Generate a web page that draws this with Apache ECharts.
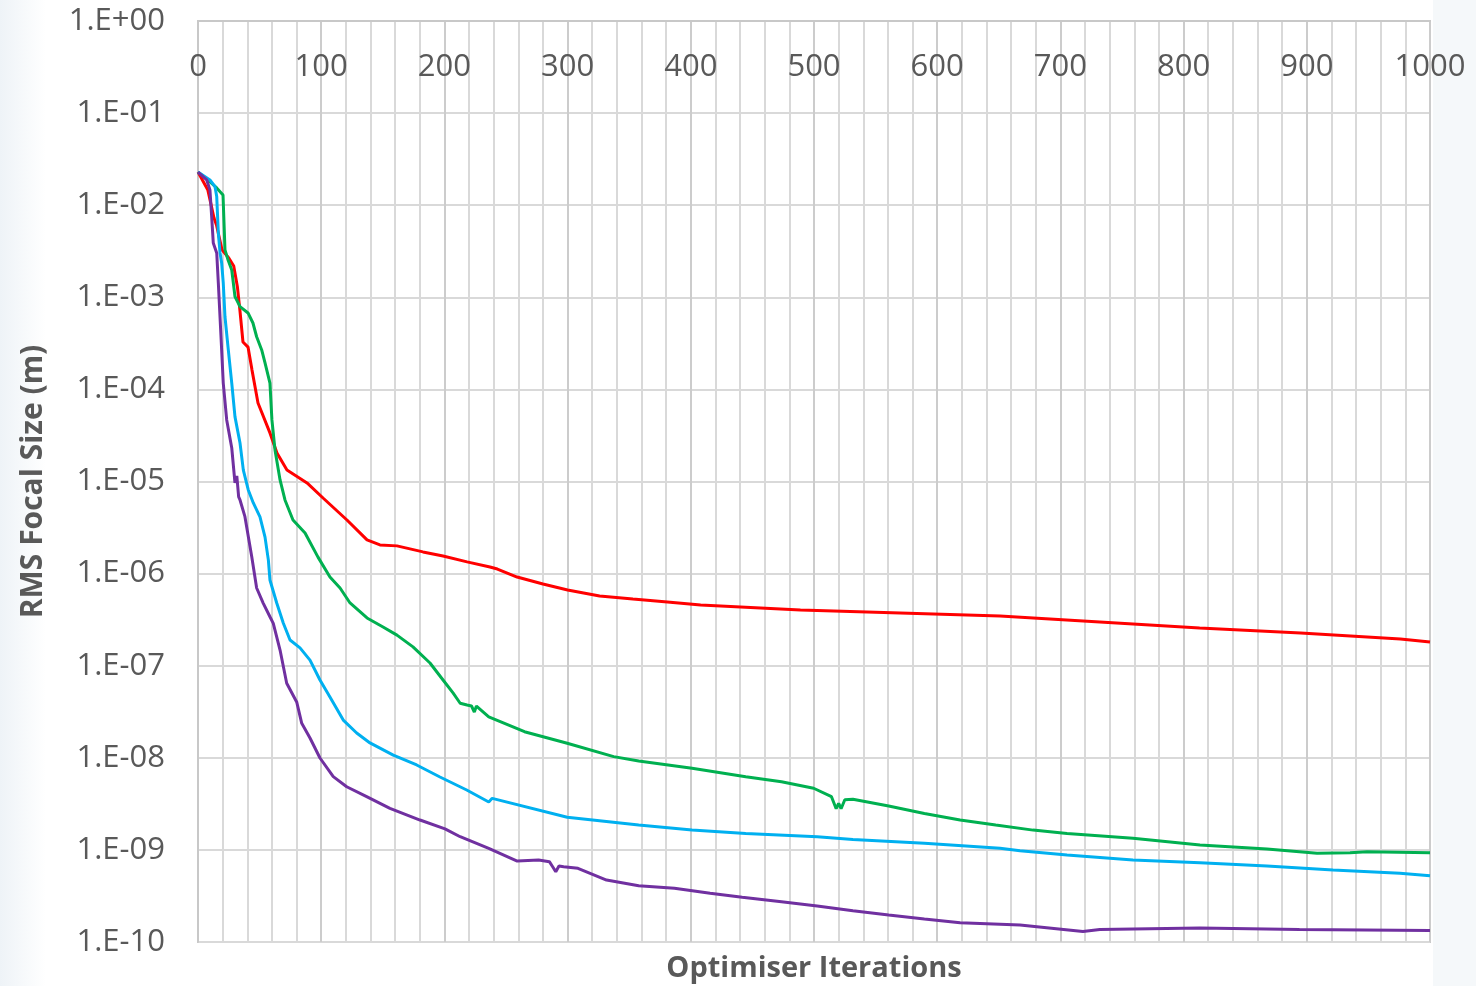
<!DOCTYPE html>
<html>
<head>
<meta charset="utf-8">
<script src="https://cdn.jsdelivr.net/npm/echarts@6/dist/echarts.min.js"></script>
<style>
  html, body { margin: 0; padding: 0; background: #ffffff; }
  #chart { width: 1476px; height: 986px; }
</style>
</head>
<body>
<div id="chart"></div>
<script>
// ---- Data (iteration, RMS focal size in m) ----
const redIter = [0,8,13,15,19.5,25,29,32,34,36.5,40.6,43.8,48.7,58.4,64.1,72.2,88.5,101.5,120.9,137.2,147.7,161.5,182.6,198.9,218.4,237,243,259,280,300,326,353,381,408,489,570,651,732,813,895,976,1000];
const redVal = [2.29e-2,1.46e-2,7.26e-3,6.1e-3,3.27e-3,2.67e-3,2.19e-3,1.29e-3,7.28e-4,3.27e-4,2.88e-4,1.63e-4,7.11e-5,3.37e-5,2.04e-5,1.33e-5,9.64e-6,6.62e-6,3.82e-6,2.32e-6,2.05e-6,2.00e-6,1.72e-6,1.55e-6,1.34e-6,1.18e-6,1.12e-6,9.18e-7,7.71e-7,6.64e-7,5.71e-7,5.30e-7,4.92e-7,4.56e-7,4.03e-7,3.73e-7,3.46e-7,2.98e-7,2.56e-7,2.26e-7,1.95e-7,1.81e-7];

const greenIter = [0,8,15.2,20.3,21.9,24.4,27.4,30,34.1,40.6,44.6,47.6,51.7,54.4,58.4,60,62.5,66.6,70.6,77.1,86.9,97.4,107.1,115.3,123.4,137.2,150.2,161.5,174.5,188.3,198.9,207,212.8,218.4,222,224.3,226,236,265,299.7,337.4,357.7,401,444.6,473.6,499.7,514.2,518,520,522,525,531.6,560.6,589.6,618.6,647.5,677.8,705.4,758.9,813.3,867.7,908.3,935.1,948.9,1000];
const greenVal = [2.29e-2,1.88e-2,1.54e-2,1.29e-2,3.27e-3,2.54e-3,1.98e-3,1.02e-3,7.91e-4,6.76e-4,5.26e-4,3.73e-4,2.68e-4,1.94e-4,1.17e-4,4.66e-5,2.20e-5,1.04e-5,6.30e-6,3.82e-6,2.76e-6,1.51e-6,9.18e-7,6.98e-7,4.80e-7,3.30e-7,2.63e-7,2.15e-7,1.60e-7,1.07e-7,7.00e-8,5.06e-8,3.91e-8,3.74e-8,3.65e-8,3.14e-8,3.65e-8,2.79e-8,1.92e-8,1.44e-8,1.03e-8,9.23e-9,7.69e-9,6.24e-9,5.50e-9,4.67e-9,3.78e-9,2.8e-9,3.2e-9,2.8e-9,3.5e-9,3.54e-9,3.00e-9,2.49e-9,2.11e-9,1.86e-9,1.64e-9,1.51e-9,1.34e-9,1.13e-9,1.02e-9,9.20e-10,9.33e-10,9.55e-10,9.33e-10];

const cyanIter = [0,9.7,13.8,15.2,16.5,17.9,19.2,20.5,21.9,24.6,27.4,30,34.1,36.8,40.8,44.9,50.3,54.4,57.1,58.4,63.9,69.2,74.7,82.8,90.9,99,107.1,117.9,128.8,139.6,158.5,177.5,196.4,218.1,236,238.8,299.7,357.7,401,444.6,502.6,531.6,589.6,651,667.2,705.4,758.9,813.3,867.7,921.3,975.6,1000];
const cyanVal = [2.29e-2,1.88e-2,1.59e-2,1.24e-2,4.99e-3,3.03e-3,2.36e-3,1.43e-3,6.15e-4,2.68e-4,1.17e-4,5.06e-5,2.62e-5,1.33e-5,8.09e-6,5.85e-6,4.12e-6,2.49e-6,1.41e-6,8.53e-7,4.80e-7,2.91e-7,1.90e-7,1.56e-7,1.15e-7,7.00e-8,4.57e-8,2.57e-8,1.86e-8,1.45e-8,1.07e-8,8.36e-9,6.19e-9,4.47e-9,3.31e-9,3.63e-9,2.26e-9,1.86e-9,1.64e-9,1.51e-9,1.39e-9,1.30e-9,1.18e-9,1.04e-9,9.79e-10,8.81e-10,7.76e-10,7.26e-10,6.68e-10,6.05e-10,5.57e-10,5.25e-10];

const purpleIter = [0,7.1,9.7,11.1,12.4,15.2,16.5,19.2,20.5,23.3,27.4,30,31.5,33,34.1,38.1,43.6,47.6,53,58.4,61.1,66.6,72,80.1,84.2,90.9,99,109.8,120.7,136.9,155.8,180.2,200.5,212.8,236,259.1,276.5,285.2,288,290.4,293,296.8,308.4,331.6,357.7,386.7,415.7,441.7,473.6,502.6,531.6,560.6,589.6,618.6,667.2,718.3,732,813,894,1000];
const purpleVal = [2.29e-2,1.88e-2,1.46e-2,7.50e-3,3.89e-3,3.03e-3,1.43e-3,2.68e-4,1.17e-4,4.66e-5,2.31e-5,9.64e-6,1.15e-5,6.79e-6,6.30e-6,4.15e-6,1.53e-6,6.98e-7,4.76e-7,3.40e-7,2.88e-7,1.48e-7,6.44e-8,4.04e-8,2.37e-8,1.64e-8,9.95e-9,6.24e-9,4.85e-9,3.78e-9,2.83e-9,2.11e-9,1.69e-9,1.39e-9,1.04e-9,7.57e-10,7.76e-10,7.45e-10,6.52e-10,5.79e-10,6.68e-10,6.58e-10,6.31e-10,4.71e-10,4.08e-10,3.83e-10,3.38e-10,3.06e-10,2.74e-10,2.46e-10,2.19e-10,1.96e-10,1.78e-10,1.62e-10,1.53e-10,1.30e-10,1.37e-10,1.42e-10,1.37e-10,1.33e-10];

const yTickLabels = ['1.E+00','1.E-01','1.E-02','1.E-03','1.E-04','1.E-05','1.E-06','1.E-07','1.E-08','1.E-09','1.E-10'];
const xTickLabels = ['0','100','200','300','400','500','600','700','800','900','1000'];
const xTitle = 'Optimiser Iterations';
const yTitle = 'RMS Focal Size (m)';

function zip(xs, ys) { return xs.map((x, i) => [x, ys[i]]); }

const FONT = 'Open Sans';
const TXT = '#595959';
const GRID = '#d9d9d9';

const chart = echarts.init(document.getElementById('chart'), null, { renderer: 'canvas' });

function mkSeries(name, xs, ys, color) {
  return {
    name: name, type: 'line', data: zip(xs, ys),
    showSymbol: false, symbol: 'none', smooth: false,
    lineStyle: { color: color, width: 3 },
    itemStyle: { color: color },
    z: 3
  };
}

chart.setOption({
  animation: false,
  backgroundColor: '#ffffff',
  grid: { left: 198, right: 46, top: 21, bottom: 44, show: true, borderColor: '#c8c8c8', borderWidth: 2 },
  xAxis: {
    type: 'value', min: 0, max: 1000, interval: 100, position: 'top',
    axisLine: { show: true, lineStyle: { color: '#c8c8c8', width: 2 } },
    axisTick: { show: false },
    axisLabel: {
      inside: true, margin: 31, color: TXT, fontFamily: FONT, fontSize: 31,
      formatter: function (v) { return xTickLabels[Math.round(v / 100)]; }
    },
    splitLine: { show: true, lineStyle: { color: '#cccccc', width: 2 } },
    minorTick: { show: false, splitNumber: 5 },
    minorSplitLine: { show: true, lineStyle: { color: GRID, width: 2 } }
  },
  yAxis: {
    type: 'log', logBase: 10, min: 1e-10, max: 1, splitNumber: 10, interval: 1,
    name: yTitle, nameLocation: 'middle', nameRotate: 90, nameGap: 150,
    nameTextStyle: { color: TXT, fontFamily: FONT, fontSize: 30, fontWeight: 'bold' },
    axisLine: { show: true, lineStyle: { color: '#c8c8c8', width: 2 } },
    axisTick: { show: false },
    axisLabel: {
      margin: 33, color: TXT, fontFamily: FONT, fontSize: 31,
      formatter: function (v) { return yTickLabels[Math.round(-Math.log10(v))]; }
    },
    splitLine: { show: true, lineStyle: { color: GRID, width: 2 } }
  },
  graphic: [
    { type: 'rect', silent: true, z: -10, shape: { x: 0, y: 0, width: 46, height: 986 },
      style: { fill: new echarts.graphic.LinearGradient(0, 0, 1, 0, [{ offset: 0, color: '#eef3f7' }, { offset: 1, color: '#ffffff' }]) } },
    { type: 'rect', silent: true, z: -10, shape: { x: 1433, y: 0, width: 43, height: 986 },
      style: { fill: '#f5f8fa' } },
    { type: 'text', x: 814, y: 969, style: { text: xTitle, fill: TXT, font: 'bold 29px "Open Sans"', align: 'center', verticalAlign: 'middle' } }
  ],
  series: [
    mkSeries('Red', redIter, redVal, '#ff0000'),
    mkSeries('Green', greenIter, greenVal, '#00b050'),
    mkSeries('Cyan', cyanIter, cyanVal, '#00b0f0'),
    mkSeries('Purple', purpleIter, purpleVal, '#7030a0')
  ]
});
</script>
</body>
</html>
